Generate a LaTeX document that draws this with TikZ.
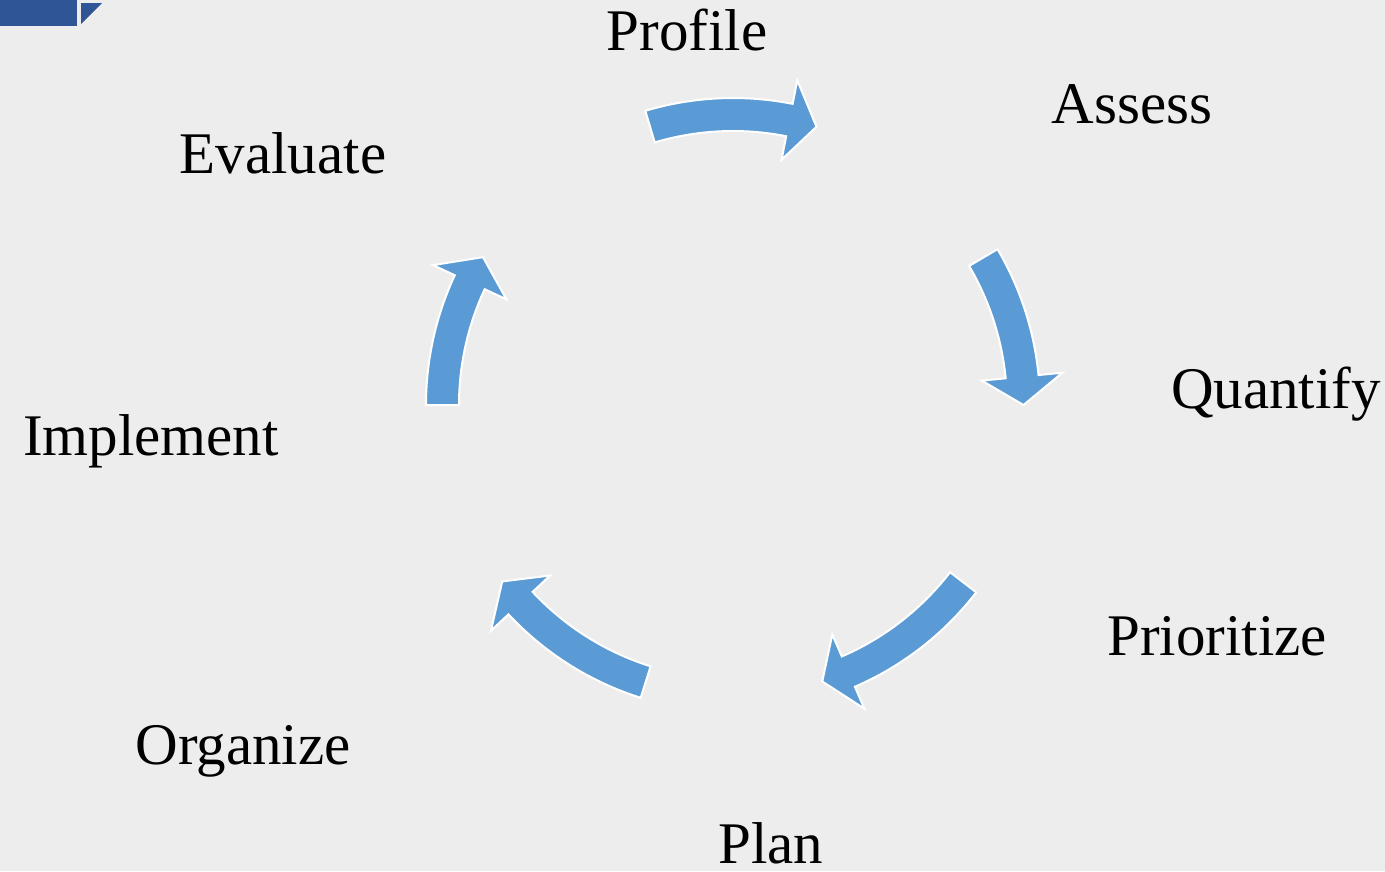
\documentclass[tikz,border=0pt]{standalone}
\usepackage{fontspec}
\setmainfont{Liberation Serif}
\usetikzlibrary{calc}
\definecolor{bgcol}{HTML}{EDEDED}
\definecolor{arrowblue}{HTML}{5B9BD5}
\definecolor{darkblue}{HTML}{2F5597}
\tikzset{
  lbl/.style={anchor=base, inner sep=0pt, font=\fontsize{59}{70}\selectfont, text=black},
  cyc/.style={fill=arrowblue, draw=white, line width=2pt, line join=miter},
}
% #1 start angle, #2 head base angle, #3 tip angle
\newcommand\cyclearrow[3]{%
  \draw[cyc] ($(C)+(#1:274pt)$) arc[start angle=#1, end angle=#2, radius=274pt]
    -- ($(C)+(#2:250pt)$) -- ($(C)+(#3:290.5pt)$) -- ($(C)+(#2:331pt)$)
    -- ($(C)+(#2:307pt)$) arc[start angle=#2, end angle=#1, radius=307pt] -- cycle;}
\begin{document}
\begin{tikzpicture}[x=1pt,y=1pt]
\fill[bgcol] (0,0) rectangle (1385,-871);
\useasboundingbox (0,0) rectangle (1385,-871);
\coordinate (C) at (733,-405);
% corner marks
\fill[darkblue] (0,0) rectangle (77,-25.5);
\fill[darkblue] (81,-3) -- (102,-3) -- (81,-24) -- cycle;
% arrows
\cyclearrow{106.6}{78.8}{73.3}
\cyclearrow{30.5}{5.6}{0}
\cyclearrow{-37.6}{-66.6}{-72.1}
\cyclearrow{-107.5}{-137}{-142.6}
\cyclearrow{180}{155}{149.4}
% labels
\node[lbl] (profile) at (687,-50) {Profile};
\node[lbl] (assess) at (1132,-123) {Assess};
\node[lbl] (quantify) at (1276,-408) {Quantify};
\node[lbl] (prioritize) at (1217,-655) {Prioritize};
\node[lbl] (plan) at (771,-863) {Plan};
\node[lbl] (organize) at (243,-764) {Organize};
\node[lbl] (implement) at (151,-455) {Implement};
\node[lbl] (evaluate) at (283,-173) {Evaluate};
\end{tikzpicture}
\end{document}
